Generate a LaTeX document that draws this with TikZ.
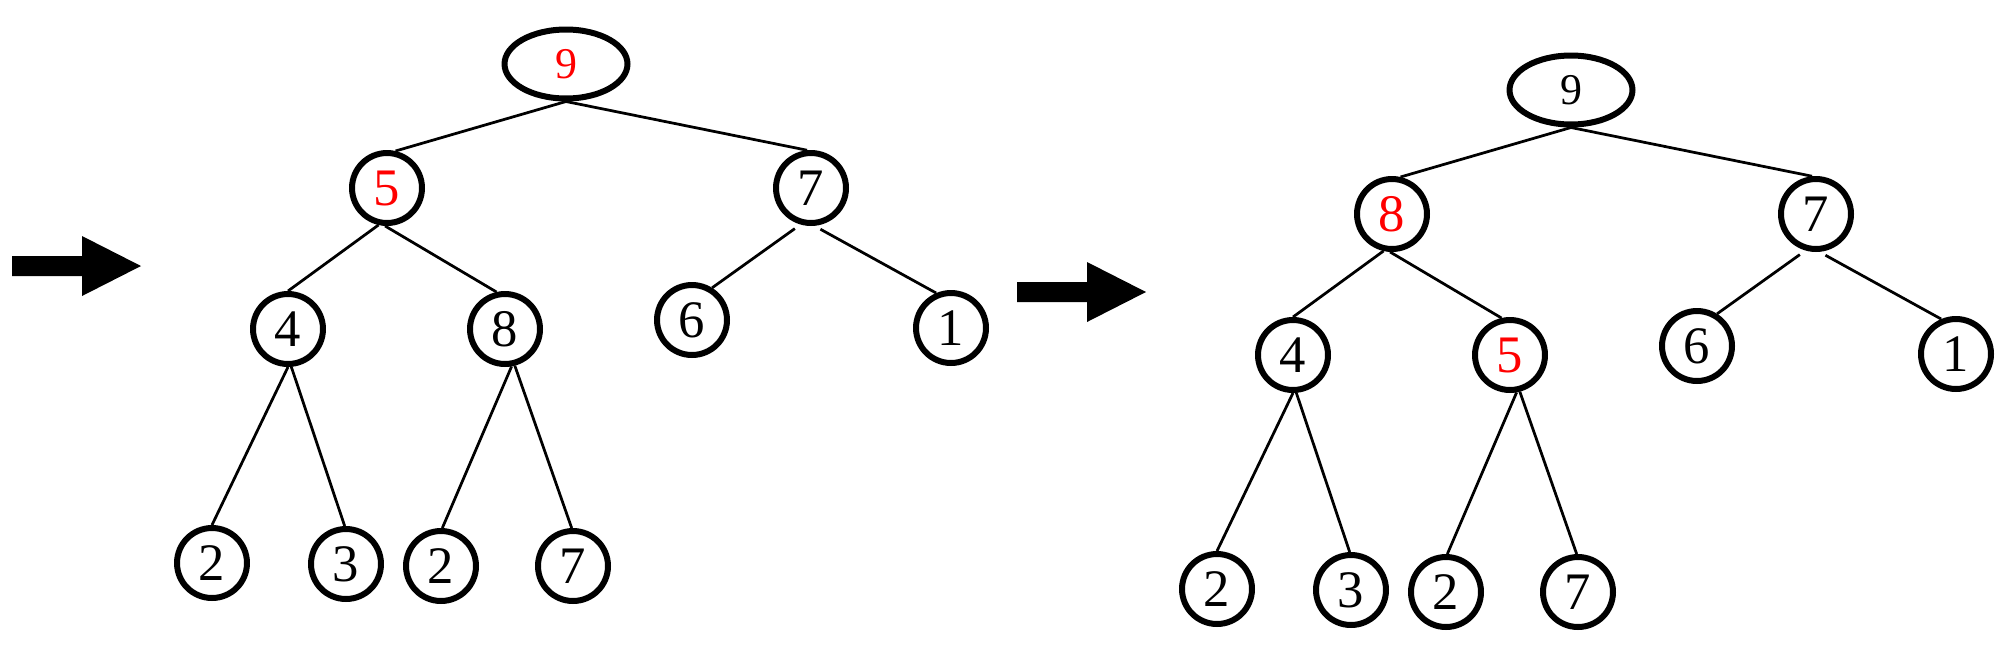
\documentclass[tikz,border=0pt]{standalone}
\usepackage{fontspec}
\setmainfont{Liberation Serif}
\usetikzlibrary{shapes.geometric}
\tikzset{
  heapnode/.style={circle,draw=black,line width=0.12cm,minimum size=1.4cm,inner sep=0pt,
    font=\fontsize{30}{30}\selectfont},
  rootnode/.style={ellipse,draw=black,line width=0.12cm,minimum width=2.46cm,minimum height=1.38cm,inner sep=0pt,
    font=\fontsize{25}{25}\selectfont},
  edge/.style={draw=black,line width=0.055cm},
  gapedge/.style={edge,shorten <=0.14cm},
  bigarrow/.style={fill=black,draw=none}
}
\newcommand{\heaptree}[6]{%
  \node[rootnode,text=#2] (#1root) at (566,64) {9};
  \node[heapnode,text=#4] (#1a) at (387,188) {#3};
  \node[heapnode] (#1b) at (811,188) {7};
  \node[heapnode] (#1c) at (288,329) {4};
  \node[heapnode,text=#6] (#1d) at (505,329) {#5};
  \node[heapnode] (#1e) at (692,320) {6};
  \node[heapnode] (#1f) at (951,328) {1};
  \node[heapnode] (#1g) at (212,563) {2};
  \node[heapnode] (#1h) at (346,564) {3};
  \node[heapnode] (#1i) at (441,566) {2};
  \node[heapnode] (#1j) at (573,566) {7};
  \draw[edge] (#1root.-90) -- (#1a.77);
  \draw[edge] (#1root.-90) -- (#1b.96);
  \draw[edge] (#1a.-103) -- (#1c.90);
  \draw[edge] (#1a.-93) -- (#1d.103);
  \draw[gapedge] (#1b.-106) -- (#1e.58);
  \draw[gapedge] (#1b.-85) -- (#1f.113);
  \draw[edge] (#1c.-90) -- (#1g.90);
  \draw[edge] (#1c.-85) -- (#1h.92);
  \draw[edge] (#1d.-80) -- (#1i.88);
  \draw[edge] (#1d.-75) -- (#1j.92);
  \fill[bigarrow] (12,256) -- (82,256) -- (82,236) -- (141,266) -- (82,296) -- (82,276) -- (12,276) -- cycle;
}
\begin{document}
\begin{tikzpicture}[x=0.02cm,y=-0.02cm]
\useasboundingbox (0,0) rectangle (2009,647);
\begin{scope}
  \heaptree{L}{red}{5}{red}{8}{black}
\end{scope}
\begin{scope}[shift={(1005,26)}]
  \heaptree{R}{black}{8}{red}{5}{red}
\end{scope}
\end{tikzpicture}
\end{document}
